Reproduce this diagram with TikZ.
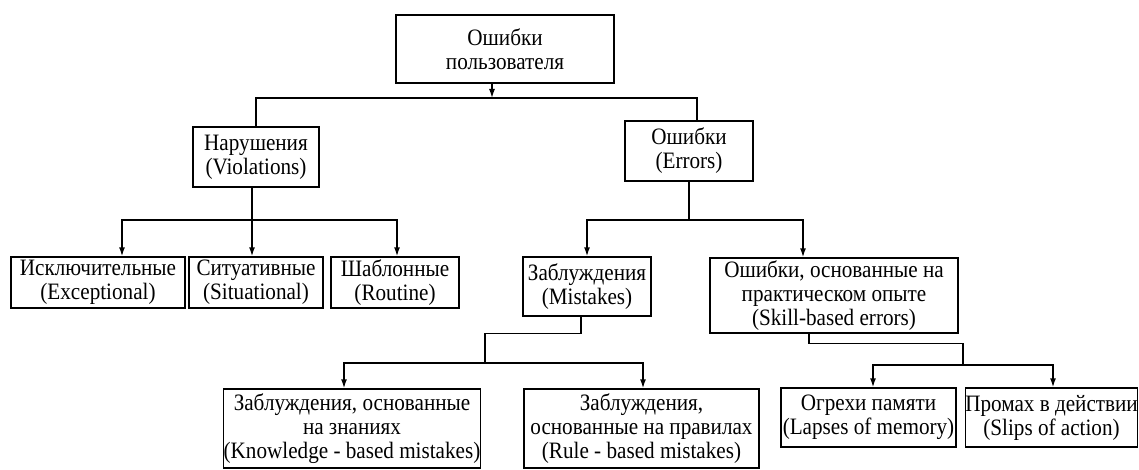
\documentclass[tikz,border=0pt]{standalone}
\usepackage{fontspec}
\setmainfont[FakeStretch=0.9]{Liberation Serif}
\usetikzlibrary{arrows.meta, positioning}

\begin{document}
\begin{tikzpicture}[x=1pt, y=1pt, on grid, line width=1.4pt,
    box/.style={draw, align=center, inner sep=0pt, font=\fontsize{23.5}{24}\selectfont},
    arr/.style={-{Latex[length=9pt, width=6pt]}}]
    \useasboundingbox (0,0) rectangle (1139,-470);
    \node[box, minimum width=218pt, minimum height=68pt] (root) at (505,-49) {Ошибки\\пользователя};
    \node[box, minimum width=126pt, minimum height=60pt] (viol) [below left=108pt and 249pt of root] {Нарушения\\(Violations)};
    \node[box, minimum width=128pt, minimum height=60pt] (err) [below right=102pt and 184pt of root] {Ошибки\\(Errors)};
    \node[box, minimum width=174pt, minimum height=51pt] (exc) [below left=125.5pt and 158pt of viol] {Исключительные\\(Exceptional)};
    \node[box, minimum width=134pt, minimum height=51pt] (sit) [below=125.5pt of viol] {Ситуативные\\(Situational)};
    \node[box, minimum width=128pt, minimum height=51pt] (rout) [right=139pt of sit] {Шаблонные\\(Routine)};
    \node[box, minimum width=128pt, minimum height=59pt] (mist) [below left=135.5pt and 102pt of err] {Заблуждения\\(Mistakes)};
    \node[box, minimum width=248pt, minimum height=75pt] (skill) [below right=144.5pt and 145pt of err] {Ошибки, основанные на\\практическом опыте\\(Skill-based errors)};
    \node[box, minimum width=256pt, minimum height=79pt] (know) [below left=142pt and 235pt of mist] {Заблуждения, основанные\\на знаниях\\(Knowledge - based mistakes)};
    \node[box, minimum width=235pt, minimum height=79pt] (rule) [below right=142pt and 54.5pt of mist] {Заблуждения,\\основанные на правилах\\(Rule - based mistakes)};
    \node[box, minimum width=175pt, minimum height=59pt] (laps) [below right=122pt and 34.5pt of skill] {Огрехи памяти\\(Lapses of memory)};
    \node[box, minimum width=171pt, minimum height=59pt] (slips) [right=183pt of laps] {Промах в действии\\(Slips of action)};

    \coordinate (tb) at (492,-98);
    \coordinate (vb) at (252,-220);
    \coordinate (eb) at (689,-220);
    \coordinate (mb) at (485,-363);
    \coordinate (sb) at (963,-365);

    \draw[arr] (root.south -| tb) -- (tb);
    \draw (viol.north) |- (tb) -| ([xshift=8pt]err.north);

    \draw (viol.south -| vb) -- (vb);
    \draw[arr] (vb) -| ([xshift=24pt]exc.north);
    \draw[arr] (vb) -- (sit.north -| vb);
    \draw[arr] (vb) -| ([xshift=2pt]rout.north);

    \draw (err.south) -- (eb);
    \draw[arr] (eb) -| (mist.north);
    \draw[arr] (eb) -| ([xshift=-31pt]skill.north);

    \draw ([xshift=-6pt]mist.south) -- ++(0,-17) -| (mb);
    \draw[arr] (mb) -| ([xshift=-8pt]know.north);
    \draw[arr] (mb) -| ([xshift=1.5pt]rule.north);

    \draw ([xshift=-25pt]skill.south) -- ++(0,-10) -| (sb);
    \draw[arr] (sb) -| ([xshift=4.5pt]laps.north);
    \draw[arr] (sb) -| ([xshift=1.5pt]slips.north);
\end{tikzpicture}
\end{document}
